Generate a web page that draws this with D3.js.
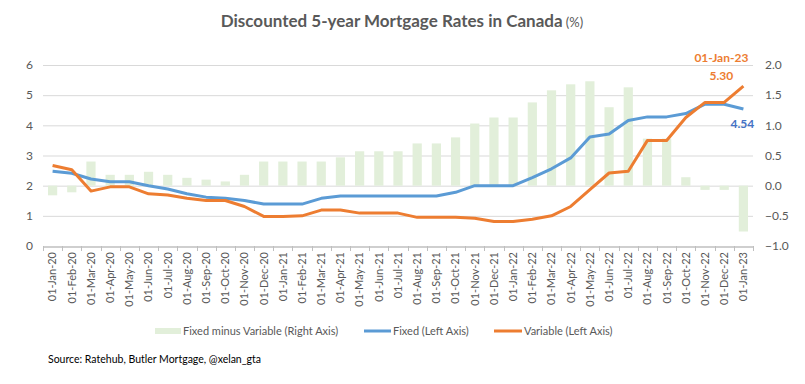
<!DOCTYPE html>
<html>
<head>
<meta charset="utf-8">
<script src="https://cdn.jsdelivr.net/npm/d3@7"></script>
<style>
    body { margin: 0; background: #fff; }
    text { font-family: Lato, "Open Sans", sans-serif; }
</style>
</head>
<body>
<script>
//chart data, one value per month
var months = ["01-Jan-20","01-Feb-20","01-Mar-20","01-Apr-20","01-May-20","01-Jun-20","01-Jul-20","01-Aug-20","01-Sep-20","01-Oct-20","01-Nov-20","01-Dec-20",
    "01-Jan-21","01-Feb-21","01-Mar-21","01-Apr-21","01-May-21","01-Jun-21","01-Jul-21","01-Aug-21","01-Sep-21","01-Oct-21","01-Nov-21","01-Dec-21",
    "01-Jan-22","01-Feb-22","01-Mar-22","01-Apr-22","01-May-22","01-Jun-22","01-Jul-22","01-Aug-22","01-Sep-22","01-Oct-22","01-Nov-22","01-Dec-22",
    "01-Jan-23"];

var fixed = [2.48,2.41,2.22,2.13,2.13,2.00,1.89,1.73,1.62,1.58,1.51,1.39,1.39,1.39,1.58,1.66,1.66,1.66,1.66,1.66,1.66,1.78,2.00,2.00,2.00,2.27,2.56,2.92,3.61,3.71,4.16,4.28,4.28,4.39,4.70,4.70,4.54];

var variable = [2.67,2.53,1.82,1.96,1.96,1.73,1.69,1.58,1.51,1.51,1.31,0.98,0.98,1.00,1.19,1.19,1.09,1.09,1.09,0.95,0.95,0.95,0.92,0.81,0.81,0.89,1.00,1.31,1.87,2.42,2.48,3.50,3.50,4.26,4.76,4.76,5.30];

var spread = [-0.16,-0.11,0.40,0.18,0.18,0.23,0.18,0.13,0.10,0.07,0.18,0.40,0.40,0.40,0.40,0.47,0.57,0.57,0.57,0.70,0.70,0.80,1.03,1.13,1.13,1.38,1.58,1.68,1.73,1.30,1.63,0.78,0.78,0.14,-0.07,-0.07,-0.76];

var leftTicks = [0,1,2,3,4,5,6];
var rightTicks = [-1.0,-0.5,0.0,0.5,1.0,1.5,2.0];

window.onload = drawChart();

function drawChart(){

    //frame dimensions
    var width = 805,
        height = 384;

    var plot = {left: 43, right: 753, top: 65, bottom: 246};

    var svg = d3.select("body")
        .append("svg")
        .attr("width", width)
        .attr("height", height);

    //scales
    var x = d3.scaleBand()
        .domain(months)
        .range([plot.left, plot.right])
        .paddingInner(0.52)
        .paddingOuter(0.26);

    var band = d3.scaleBand()
        .domain(months)
        .range([plot.left, plot.right]);

    var yLeft = d3.scaleLinear()
        .domain([0, 6])
        .range([plot.bottom, plot.top]);

    var yRight = d3.scaleLinear()
        .domain([-1, 2])
        .range([plot.bottom, plot.top]);

    //title
    var title = svg.append("text")
        .attr("x", 402)
        .attr("y", 27)
        .attr("text-anchor", "middle")
        .attr("fill", "#595959");
    title.append("tspan")
        .attr("font-size", "17px")
        .attr("font-weight", "bold")
        .text("Discounted 5-year Mortgage Rates in Canada");
    title.append("tspan")
        .attr("font-size", "13px")
        .text(" (%)");

    //gridlines
    svg.append("g")
        .selectAll("line")
        .data(leftTicks.slice(1))
        .enter()
        .append("line")
        .attr("x1", plot.left)
        .attr("x2", plot.right)
        .attr("y1", function(d){ return yLeft(d) + 0.5; })
        .attr("y2", function(d){ return yLeft(d) + 0.5; })
        .attr("stroke", "#d9d9d9")
        .attr("stroke-width", 1);

    //left axis labels
    svg.append("g")
        .selectAll("text")
        .data(leftTicks)
        .enter()
        .append("text")
        .attr("x", 33)
        .attr("y", function(d){ return yLeft(d); })
        .attr("dy", "0.35em")
        .attr("text-anchor", "end")
        .attr("font-size", "12px")
        .attr("fill", "#595959")
        .text(function(d){ return d; });

    //right axis labels
    svg.append("g")
        .selectAll("text")
        .data(rightTicks)
        .enter()
        .append("text")
        .attr("x", 765)
        .attr("y", function(d){ return yRight(d); })
        .attr("dy", "0.35em")
        .attr("font-size", "12px")
        .attr("fill", "#595959")
        .text(function(d){ return d3.format(".1f")(d); });

    //spread bars on right axis
    svg.append("g")
        .selectAll("rect")
        .data(spread)
        .enter()
        .append("rect")
        .attr("x", function(d, i){ return x(months[i]); })
        .attr("width", x.bandwidth())
        .attr("y", function(d){ return Math.min(yRight(d), yRight(0)); })
        .attr("height", function(d){ return Math.abs(yRight(d) - yRight(0)); })
        .attr("fill", "#e2efda");

    //bottom axis with ticks between months
    var xAxis = d3.axisBottom(band)
        .tickSize(0)
        .tickFormat("");
    svg.append("g")
        .attr("transform", "translate(0," + (plot.bottom + 0.5) + ")")
        .call(xAxis)
        .call(function(g){ g.select(".domain").attr("stroke", "#bfbfbf").attr("stroke-width", 1.5); });

    svg.append("g")
        .selectAll("line")
        .data(months.concat(["end"]))
        .enter()
        .append("line")
        .attr("x1", function(d, i){ return Math.round(plot.left + i * band.step()) + 0.5; })
        .attr("x2", function(d, i){ return Math.round(plot.left + i * band.step()) + 0.5; })
        .attr("y1", plot.bottom)
        .attr("y2", plot.bottom + 5)
        .attr("stroke", "#bfbfbf")
        .attr("stroke-width", 1);

    //rotated month labels
    svg.append("g")
        .selectAll("text")
        .data(months)
        .enter()
        .append("text")
        .attr("transform", function(d){
            return "translate(" + (band(d) + band.bandwidth() / 2) + "," + (plot.bottom + 6) + ") rotate(-90)";
        })
        .attr("dy", "0.35em")
        .attr("text-anchor", "end")
        .attr("font-size", "11px")
        .attr("fill", "#595959")
        .text(function(d){ return d; });

    //rate lines on left axis
    var line = d3.line()
        .x(function(d, i){ return band(months[i]) + band.bandwidth() / 2; })
        .y(function(d){ return yLeft(d); });

    svg.append("path")
        .datum(fixed)
        .attr("d", line)
        .attr("fill", "none")
        .attr("stroke", "#5b9bd5")
        .attr("stroke-width", 3)
        .attr("stroke-linejoin", "round");

    svg.append("path")
        .datum(variable)
        .attr("d", line)
        .attr("fill", "none")
        .attr("stroke", "#ed7d31")
        .attr("stroke-width", 3)
        .attr("stroke-linejoin", "round");

    //end labels
    var last = months.length - 1,
        lastX = band(months[last]) + band.bandwidth() / 2;

    svg.append("text")
        .attr("x", lastX - 22)
        .attr("y", yLeft(variable[last]) - 24)
        .attr("text-anchor", "middle")
        .attr("font-size", "12px")
        .attr("font-weight", "bold")
        .attr("fill", "#ed7d31")
        .text(months[last]);

    svg.append("text")
        .attr("x", lastX - 22)
        .attr("y", yLeft(variable[last]) - 6)
        .attr("text-anchor", "middle")
        .attr("font-size", "12px")
        .attr("font-weight", "bold")
        .attr("fill", "#ed7d31")
        .text(d3.format(".2f")(variable[last]));

    svg.append("text")
        .attr("x", lastX - 1)
        .attr("y", yLeft(fixed[last]) + 19)
        .attr("text-anchor", "middle")
        .attr("font-size", "12px")
        .attr("font-weight", "bold")
        .attr("fill", "#4472c4")
        .text(d3.format(".2f")(fixed[last]));

    //legend
    var legend = svg.append("g")
        .attr("font-size", "11px")
        .attr("fill", "#595959");

    legend.append("rect")
        .attr("x", 155).attr("y", 328)
        .attr("width", 26).attr("height", 6)
        .attr("fill", "#e2efda");
    legend.append("text")
        .attr("x", 183).attr("y", 331).attr("dy", "0.35em")
        .text("Fixed minus Variable (Right Axis)");

    legend.append("line")
        .attr("x1", 364).attr("x2", 391)
        .attr("y1", 331).attr("y2", 331)
        .attr("stroke", "#5b9bd5").attr("stroke-width", 3);
    legend.append("text")
        .attr("x", 393).attr("y", 331).attr("dy", "0.35em")
        .text("Fixed (Left Axis)");

    legend.append("line")
        .attr("x1", 494).attr("x2", 522)
        .attr("y1", 331).attr("y2", 331)
        .attr("stroke", "#ed7d31").attr("stroke-width", 3);
    legend.append("text")
        .attr("x", 524).attr("y", 331).attr("dy", "0.35em")
        .text("Variable (Left Axis)");

    //source note
    svg.append("text")
        .attr("x", 48)
        .attr("y", 359)
        .attr("dy", "0.35em")
        .attr("font-size", "10.5px")
        .attr("fill", "#000")
        .text("Source: Ratehub, Butler Mortgage, @xelan_gta");
};
</script>
</body>
</html>
